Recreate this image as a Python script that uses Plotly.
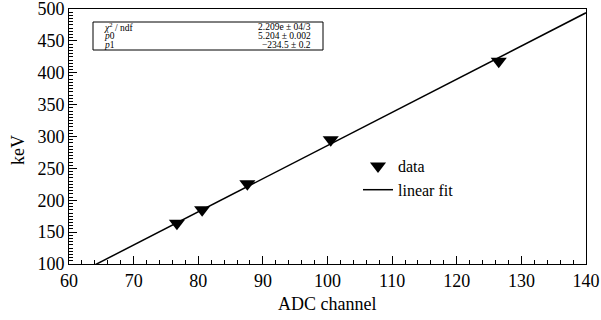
import plotly.graph_objects as go

# data
adc_channel = [76.7, 80.6, 87.6, 100.5, 126.5]
energy_kev = [164, 185, 226, 295, 418]
fit_p0 = 5.204
fit_p1 = -234.5
fit_x = [60, 140]
fit_y = [fit_p0 * v + fit_p1 for v in fit_x]

stats_labels = ["<i>χ</i><sup>2</sup> / ndf", "<i>p</i>0", "<i>p</i>1"]
stats_values = ["2.209e ± 04/3", "5.204 ± 0.002", "−234.5 ± 0.2"]
x_title = "ADC channel"
y_title = "keV"

FONT = "Liberation Serif"
W, H = 601, 320
L, R, T, B = 69, 15, 9, 56
pw, ph = W - L - R, H - T - B

def px(x):
    return (x - L) / pw

def py(y):
    return (H - B - y) / ph

fig = go.Figure()
fig.add_trace(go.Scatter(
    x=adc_channel, y=energy_kev, mode="markers", name="data",
    marker=dict(symbol="triangle-down", size=14, color="black"),
))
fig.add_trace(go.Scatter(
    x=fit_x, y=fit_y, mode="lines", name="linear fit",
    line=dict(color="black", width=1.5),
))

# stats box
fig.add_shape(type="rect", xref="paper", yref="paper",
              x0=px(93), x1=px(323), y0=py(50), y1=py(22),
              line=dict(color="black", width=1), fillcolor="white", layer="above")
row_y = [27, 36, 45]
for lab, val, ry in zip(stats_labels, stats_values, row_y):
    fig.add_annotation(xref="paper", yref="paper", x=px(102), y=py(ry),
                       text=lab, showarrow=False, xanchor="left", yanchor="middle",
                       font=dict(family=FONT, size=9.5, color="black"))
    fig.add_annotation(xref="paper", yref="paper", x=px(313), y=py(ry),
                       text=val, showarrow=False, xanchor="right", yanchor="middle",
                       font=dict(family=FONT, size=9.5, color="black"))

# axis titles
fig.add_annotation(xref="paper", yref="paper", x=px(327), y=py(304),
                   text=x_title, showarrow=False, xanchor="center", yanchor="middle",
                   font=dict(family=FONT, size=18, color="black"))
fig.add_annotation(xref="paper", yref="paper", x=px(18), y=py(150),
                   text=y_title, showarrow=False, xanchor="center", yanchor="middle",
                   textangle=-90, font=dict(family=FONT, size=18, color="black"))

axis_common = dict(
    showgrid=False, zeroline=False, showline=True, mirror=True, automargin=False,
    linecolor="black", linewidth=1, ticks="inside", ticklen=8, tickwidth=1,
    tickcolor="black", tickfont=dict(family=FONT, size=18, color="black"),
    ticklabeloverflow="allow",
)

fig.update_xaxes(range=[60, 140], dtick=10, tick0=60,
                 minor=dict(dtick=2, ticks="inside", ticklen=4, tickcolor="black"),
                 **axis_common)
fig.update_yaxes(range=[100, 500], dtick=50, tick0=100,
                 minor=dict(dtick=5, ticks="inside", ticklen=4, tickcolor="black"),
                 **axis_common)

fig.update_layout(
    width=W, height=H,
    margin=dict(l=L, r=R, t=T, b=B),
    plot_bgcolor="white", paper_bgcolor="white",
    font=dict(family=FONT, color="black"),
    showlegend=True,
    legend=dict(x=px(358), y=py(149), xanchor="left", yanchor="top",
                bgcolor="rgba(0,0,0,0)", borderwidth=0, itemwidth=30,
                font=dict(family=FONT, size=16, color="black"),
                tracegroupgap=0),
)

fig.write_html("out.html", config={"displayModeBar": False},
               post_script="document.body.style.margin='0';")
